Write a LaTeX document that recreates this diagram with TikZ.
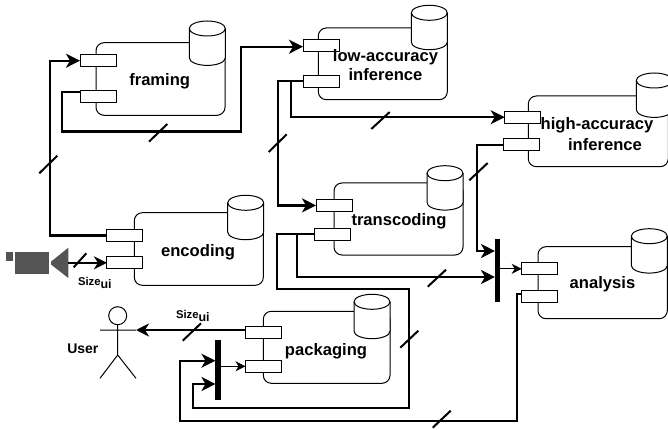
\documentclass[tikz,border=0pt]{standalone}
\usepackage{fontspec}
\setmainfont{Liberation Sans}
\usetikzlibrary{arrows.meta}
\tikzset{
  every node/.style={inner sep=0pt,outer sep=0pt},
  body/.style={draw=black,line width=1pt,rounded corners=8pt,anchor=north west},
  port/.style={draw=black,fill=white,line width=1pt,minimum width=36pt,minimum height=12pt,anchor=center},
  storecyl/.pic={
    \draw[fill=white,line width=1pt] (0,7.5) -- (0,36.9)
      arc[start angle=180,end angle=360,x radius=18pt,y radius=7.5pt] -- (36,7.5)
      arc[start angle=0,end angle=180,x radius=18pt,y radius=7.5pt] -- cycle;
    \draw[line width=1pt] (0,7.5) arc[start angle=180,end angle=360,x radius=18pt,y radius=7.5pt];
  },
  label/.style={font=\bfseries\fontsize{16.6}{19}\selectfont,align=center,text=black},
  small/.style={font=\bfseries\fontsize{11.3}{13}\selectfont,anchor=base west,text=black},
  actorlabel/.style={font=\bfseries\fontsize{14}{16}\selectfont,anchor=base west,text=black},
  wire/.style={draw=black,line width=2.3pt,line join=miter},
  tip/.style={-{Stealth[length=14pt,width=14pt,inset=4pt]}},
  wiretip/.style={wire,tip},
  thin wire/.style={draw=black,line width=1pt,-{Stealth[length=10pt,width=10pt,inset=3pt]}},
  tick/.style={draw=black,line width=2pt},
  bar/.style={fill=black,minimum width=5.5pt},
  cam/.style={fill=black!67,draw=none},
  stick/.style={draw=black,line width=1pt},
}
\newcommand{\subui}{\raisebox{-3pt}{\fontsize{12.4}{14}\selectfont ui}}
\begin{document}
\begin{tikzpicture}[x=1pt,y=-1pt]
\useasboundingbox (0,0) rectangle (668,430);
% bodies
\node[body,minimum width=129pt,minimum height=72.6pt] (frB) at (96,42.7) {};
\node[body,minimum width=129pt,minimum height=71.7pt] (loB) at (318.3,28) {};
\node[body,minimum width=140pt,minimum height=70.7pt] (hiB) at (528.3,96) {};
\node[body,minimum width=129pt,minimum height=72pt] (trB) at (334,183) {};
\node[body,minimum width=129pt,minimum height=72.6pt] (enB) at (134.3,212.7) {};
\node[body,minimum width=126.7pt,minimum height=72pt] (paB) at (263.3,311.3) {};
\node[body,minimum width=129.3pt,minimum height=72pt] (anB) at (538,246.7) {};
% stores
\pic at (189.3,21) {storecyl};
\pic at (411.3,5.3) {storecyl};
\pic at (636.3,73) {storecyl};
\pic at (427,165.7) {storecyl};
\pic at (227.7,195.3) {storecyl};
\pic at (354,294.3) {storecyl};
\pic at (631.3,228.7) {storecyl};
% ports
\node[port] (frA) at (98,60.7) {};
\node[port] (frC) at (98,96.3) {};
\node[port] (loA) at (321,45.2) {};
\node[port] (loC) at (321,81.3) {};
\node[port] (hiA) at (522.7,117.2) {};
\node[port] (hiC) at (521.5,144.7) {};
\node[port] (trA) at (334,205.4) {};
\node[port] (trC) at (332.7,234.3) {};
\node[port] (enA) at (124.9,235.5) {};
\node[port] (enC) at (124.9,262.8) {};
\node[port] (paA) at (263.5,332.8) {};
\node[port] (paC) at (263.5,366.3) {};
\node[port] (anA) at (539.7,268.8) {};
\node[port] (anC) at (539.7,296.3) {};
% bars
\node[bar,minimum height=62.4pt] (barA) at (497.7,270.5) {};
\node[bar,minimum height=59.7pt] (barB) at (218.2,369.9) {};
% labels
\node[label,anchor=base] (frL) at (159.7,86) {framing};
\node[label] (loL) at (385.5,65.5) {low-accuracy\\inference};
\node[label,font=\bfseries\fontsize{16.6}{21}\selectfont] (hiL) at (597,134) {high-accuracy\\\hspace*{16pt}inference};
\node[label,anchor=base] (trL) at (399,225) {transcoding};
\node[label,anchor=base] (enL) at (198,256) {encoding};
\node[label,anchor=base] (paL) at (326,355) {packaging};
\node[label,anchor=base] (anL) at (602.5,288) {analysis};
% camera
\node[cam,minimum width=33.4pt,minimum height=22.6pt,anchor=north west] (camB) at (15.3,251.7) {};
\node[cam,minimum width=6.4pt,minimum height=9.3pt,anchor=north west] (camS) at (6.3,251.7) {};
\fill[cam] (68.3,247.7) -- (51,261.7) -- (51,264.5) -- (68.3,278) -- cycle;
\coordinate (camOut) at (68.3,262.8);
% actor
\node[circle,draw=black,line width=1pt,minimum size=18pt] (head) at (117.7,315.7) {};
\coordinate (hip) at (117.7,355);
\coordinate (armL) at (100,330);
\coordinate (armR) at (136,330);
\coordinate (legL) at (100,378.3);
\coordinate (legR) at (136,378.3);
\draw[stick] (head.south) -- (hip) (armL) -- (armR) (legL) -- (hip) -- (legR);
\node[actorlabel] (usr) at (67.3,353) {User};
% size labels
\node[small] (s1) at (78,285) {Size\subui};
\node[small] (s2) at (176,318.3) {Size\subui};
% connectors
\draw[wiretip] (enA.west) -- ++(-56.7,0) |- (frA.west);
\draw[wiretip] ([yshift=4pt]frC.west) -- ++(-18,0) -- ++(0,39.3) -| (241,46.7) -- ([yshift=-1.5pt]loA.west);
\draw[wiretip] (loC.west) -- ++(-24.7,0) |- (trA.west);
\draw[wiretip] (loC.west) -- ++(-12,0) |- (hiA.west);
\coordinate (bA1) at (barA.west |- 0,251);
\coordinate (bA2) at (barA.west |- 0,277);
\coordinate (bB1) at (barB.west |- 0,360.7);
\coordinate (bB2) at (barB.west |- 0,384);
\draw[wiretip] (hiC.west) -- ++(-26.6,0) |- (bA1);
\draw[wiretip] (trC.west) -- ++(-18,0) |- (bA2);
\draw[wiretip] (trC.west) -- ++(-37.4,0) -- ++(0,54.4) -- ++(131.4,0) -- ++(0,119.6) -| (193.3,384) -- (bB2);
\draw[wiretip] ([yshift=2.5pt]anC.west) -- ++(-5,0) -- ++(0,127) -| (180,360.7) -- (bB1);
\draw[thin wire] (barA.east |- anA.west) -- (anA.west);
\draw[thin wire] (barB.east |- paC.west) -- (paC.west);
\draw[wiretip,-{Stealth[length=13pt,width=13pt,inset=4pt]}] ([yshift=2.8pt]paA.west) -- (armR);
\draw[wiretip,-{Stealth[length=13pt,width=13pt,inset=4pt]}] (camOut) -- (enC.west);
% ticks
\draw[tick] (39.3,173.3) -- (57.3,155.7);
\draw[tick] (149,141.7) -- (167.3,124);
\draw[tick] (268.7,152) -- (286.7,134.3);
\draw[tick] (371.3,129) -- (389.7,112);
\draw[tick] (469.3,180.3) -- (487.7,163);
\draw[tick] (427.7,286.7) -- (446,269.7);
\draw[tick] (400.3,347.7) -- (418.3,330.7);
\draw[tick] (432.7,427.7) -- (450.7,410.7);
\draw[tick] (182.7,340.7) -- (201,323.3);
\draw[tick] (73.7,267.3) -- (86.3,253.3);
\end{tikzpicture}
\end{document}
